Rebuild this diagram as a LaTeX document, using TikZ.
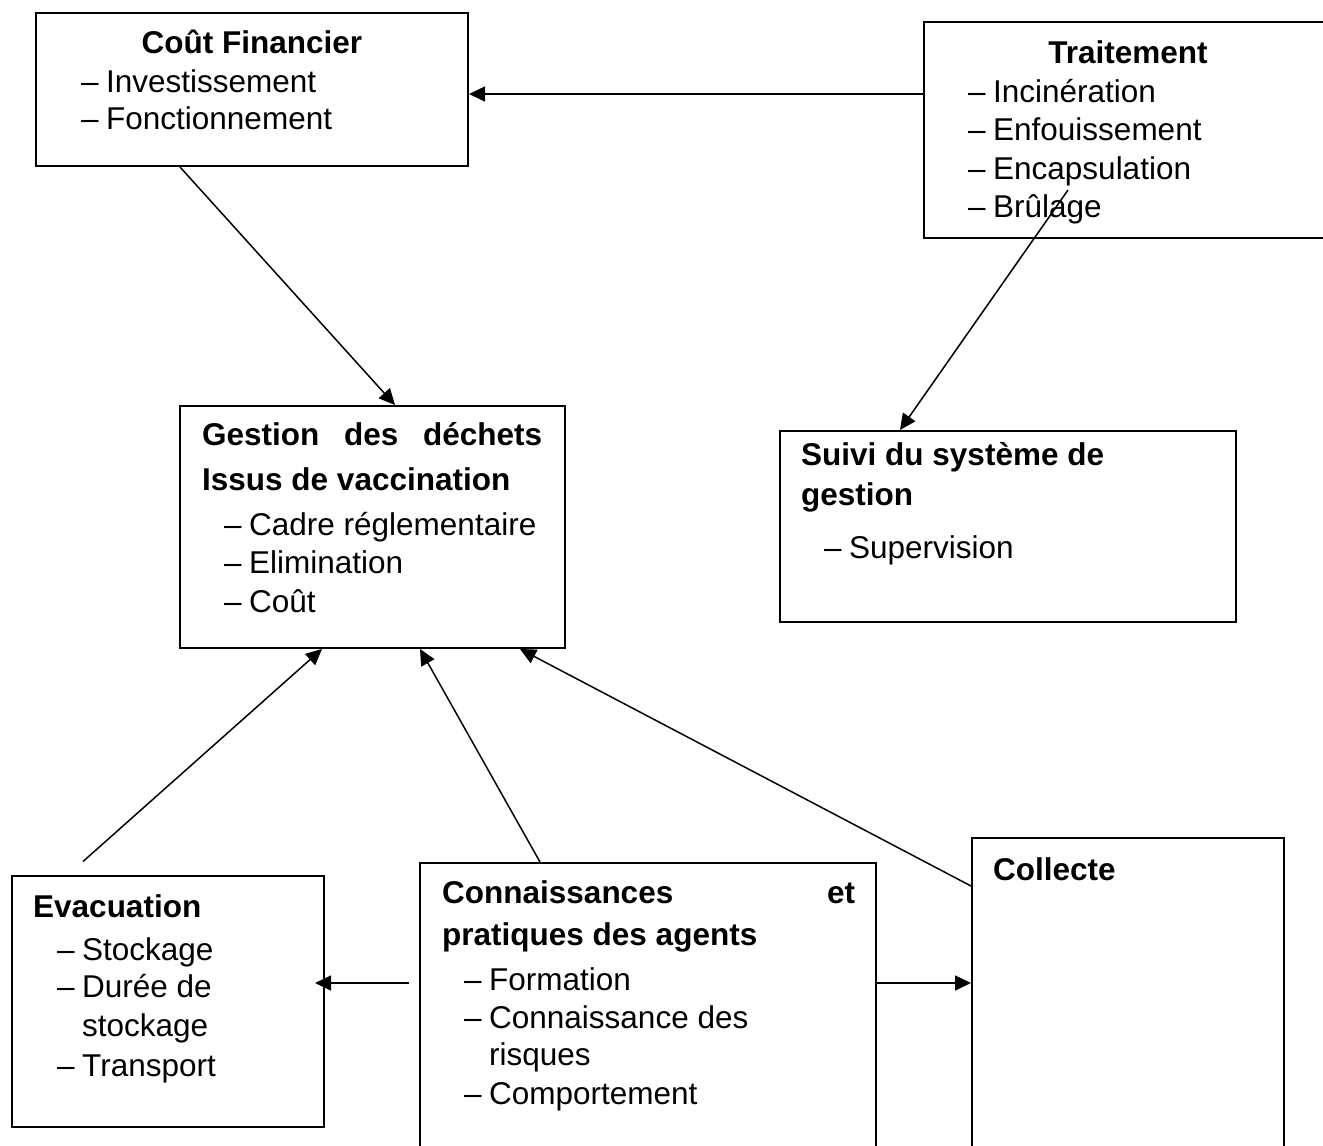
\documentclass[tikz,border=0pt]{standalone}
\usepackage{fontspec}
\setmainfont{Liberation Sans}
\usetikzlibrary{arrows.meta,calc}
\begin{document}
\begin{tikzpicture}[x=1pt,y=-1pt,
  box/.style={draw,line width=2pt,inner sep=0pt,rectangle},
  txt/.style={anchor=base west,inner sep=0pt,font=\fontsize{31.5}{38}\selectfont},
  ttl/.style={txt,font=\fontsize{31.5}{38}\selectfont\bfseries},
  arr/.style={line width=1.5pt,-{Triangle[length=16pt,width=15pt]}},
  ln/.style={line width=1.5pt}]
\useasboundingbox (0,0) rectangle (1323,1146);
\clip (0,0) rectangle (1323,1146);
\newcommand{\itm}[1]{\makebox[25pt][l]{–}#1}
% boxes
\node[box,minimum width=432pt,minimum height=153pt] (cout) at (252,89.5) {};
\node[box,minimum width=408pt,minimum height=216pt] (trait) at (1128,130) {};
\node[box,minimum width=385pt,minimum height=242pt] (gest) at (372.5,527) {};
\node[box,minimum width=456pt,minimum height=191pt] (suivi) at (1008,526.5) {};
\node[box,minimum width=312pt,minimum height=251pt] (evac) at (168,1001.5) {};
\node[box,minimum width=456pt,minimum height=297pt] (conn) at (648,1011.5) {};
\node[box,minimum width=312pt,minimum height=322pt] (coll) at (1128,999) {};
% Cout financier
\node[ttl,anchor=base] (ct) at (252,53) {Coût Financier};
\node[txt] (c1) at (81,92) {\itm{Investissement}};
\node[txt] (c2) at (81,129) {\itm{Fonctionnement}};
% Traitement
\node[ttl,anchor=base] (tt) at (1128,63) {Traitement};
\node[txt] (t1) at (968,102) {\itm{Incinération}};
\node[txt] (t2) at (968,140) {\itm{Enfouissement}};
\node[txt] (t3) at (968,179) {\itm{Encapsulation}};
\node[txt] (t4) at (968,217) {\itm{Brûlage}};
% Gestion
\node[ttl] (gt1) at (202,445) {\makebox[340pt][l]{Gestion\hfill des\hfill déchets}};
\node[ttl] (gt2) at (202,490) {Issus de vaccination};
\node[txt] (g1) at (224,535) {\itm{Cadre réglementaire}};
\node[txt] (g2) at (224,573) {\itm{Elimination}};
\node[txt] (g3) at (224,612) {\itm{Coût}};
% Suivi
\node[ttl] (st1) at (801,465) {Suivi du système de};
\node[ttl] (st2) at (801,505) {gestion};
\node[txt] (s1) at (824,558) {\itm{Supervision}};
% Evacuation
\node[ttl] (et) at (33,917) {Evacuation};
\node[txt] (e1) at (57,960) {\itm{Stockage}};
\node[txt] (e2) at (57,997) {\itm{Durée de}};
\node[txt] (e3) at (82,1036) {stockage};
\node[txt] (e4) at (57,1076) {\itm{Transport}};
% Connaissances
\node[ttl] (kt1) at (442,903) {\makebox[413pt][l]{Connaissances\hfill et}};
\node[ttl] (kt2) at (442,945) {pratiques des agents};
\node[txt] (k1) at (464,990) {\itm{Formation}};
\node[txt] (k2) at (464,1028) {\itm{Connaissance des}};
\node[txt] (k3) at (489,1065) {risques};
\node[txt] (k4) at (464,1104) {\itm{Comportement}};
% Collecte
\node[ttl] (lt) at (993,880) {Collecte};
% connectors
\draw[arr] ([yshift=36pt]trait.west) -- ([yshift=36pt]trait.west -| cout.east);
\draw[arr] ([xshift=-72pt]cout.south) -- ([xshift=22.5pt]gest.north);
\draw[arr] ([xshift=-60pt,yshift=-60pt]trait.center) -- ([xshift=-108pt]suivi.north);
\coordinate (evs) at ([xshift=-85pt,yshift=13.5pt]evac.north);
\draw[arr] (evs) -- ([xshift=-50.5pt]gest.south);
\draw[arr] ([xshift=-108pt]conn.north) -- ([xshift=47.5pt]gest.south);
\draw[arr] ([yshift=113pt]coll.west) -- ([xshift=147.5pt]gest.south);
\draw[arr] ([xshift=-10pt,yshift=28.5pt]conn.west) -- ([xshift=-10pt,yshift=28.5pt]conn.west -| evac.east);
\draw[arr] ([yshift=28.5pt]conn.east) -- ([yshift=28.5pt]conn.east -| coll.west);
\end{tikzpicture}
\end{document}
